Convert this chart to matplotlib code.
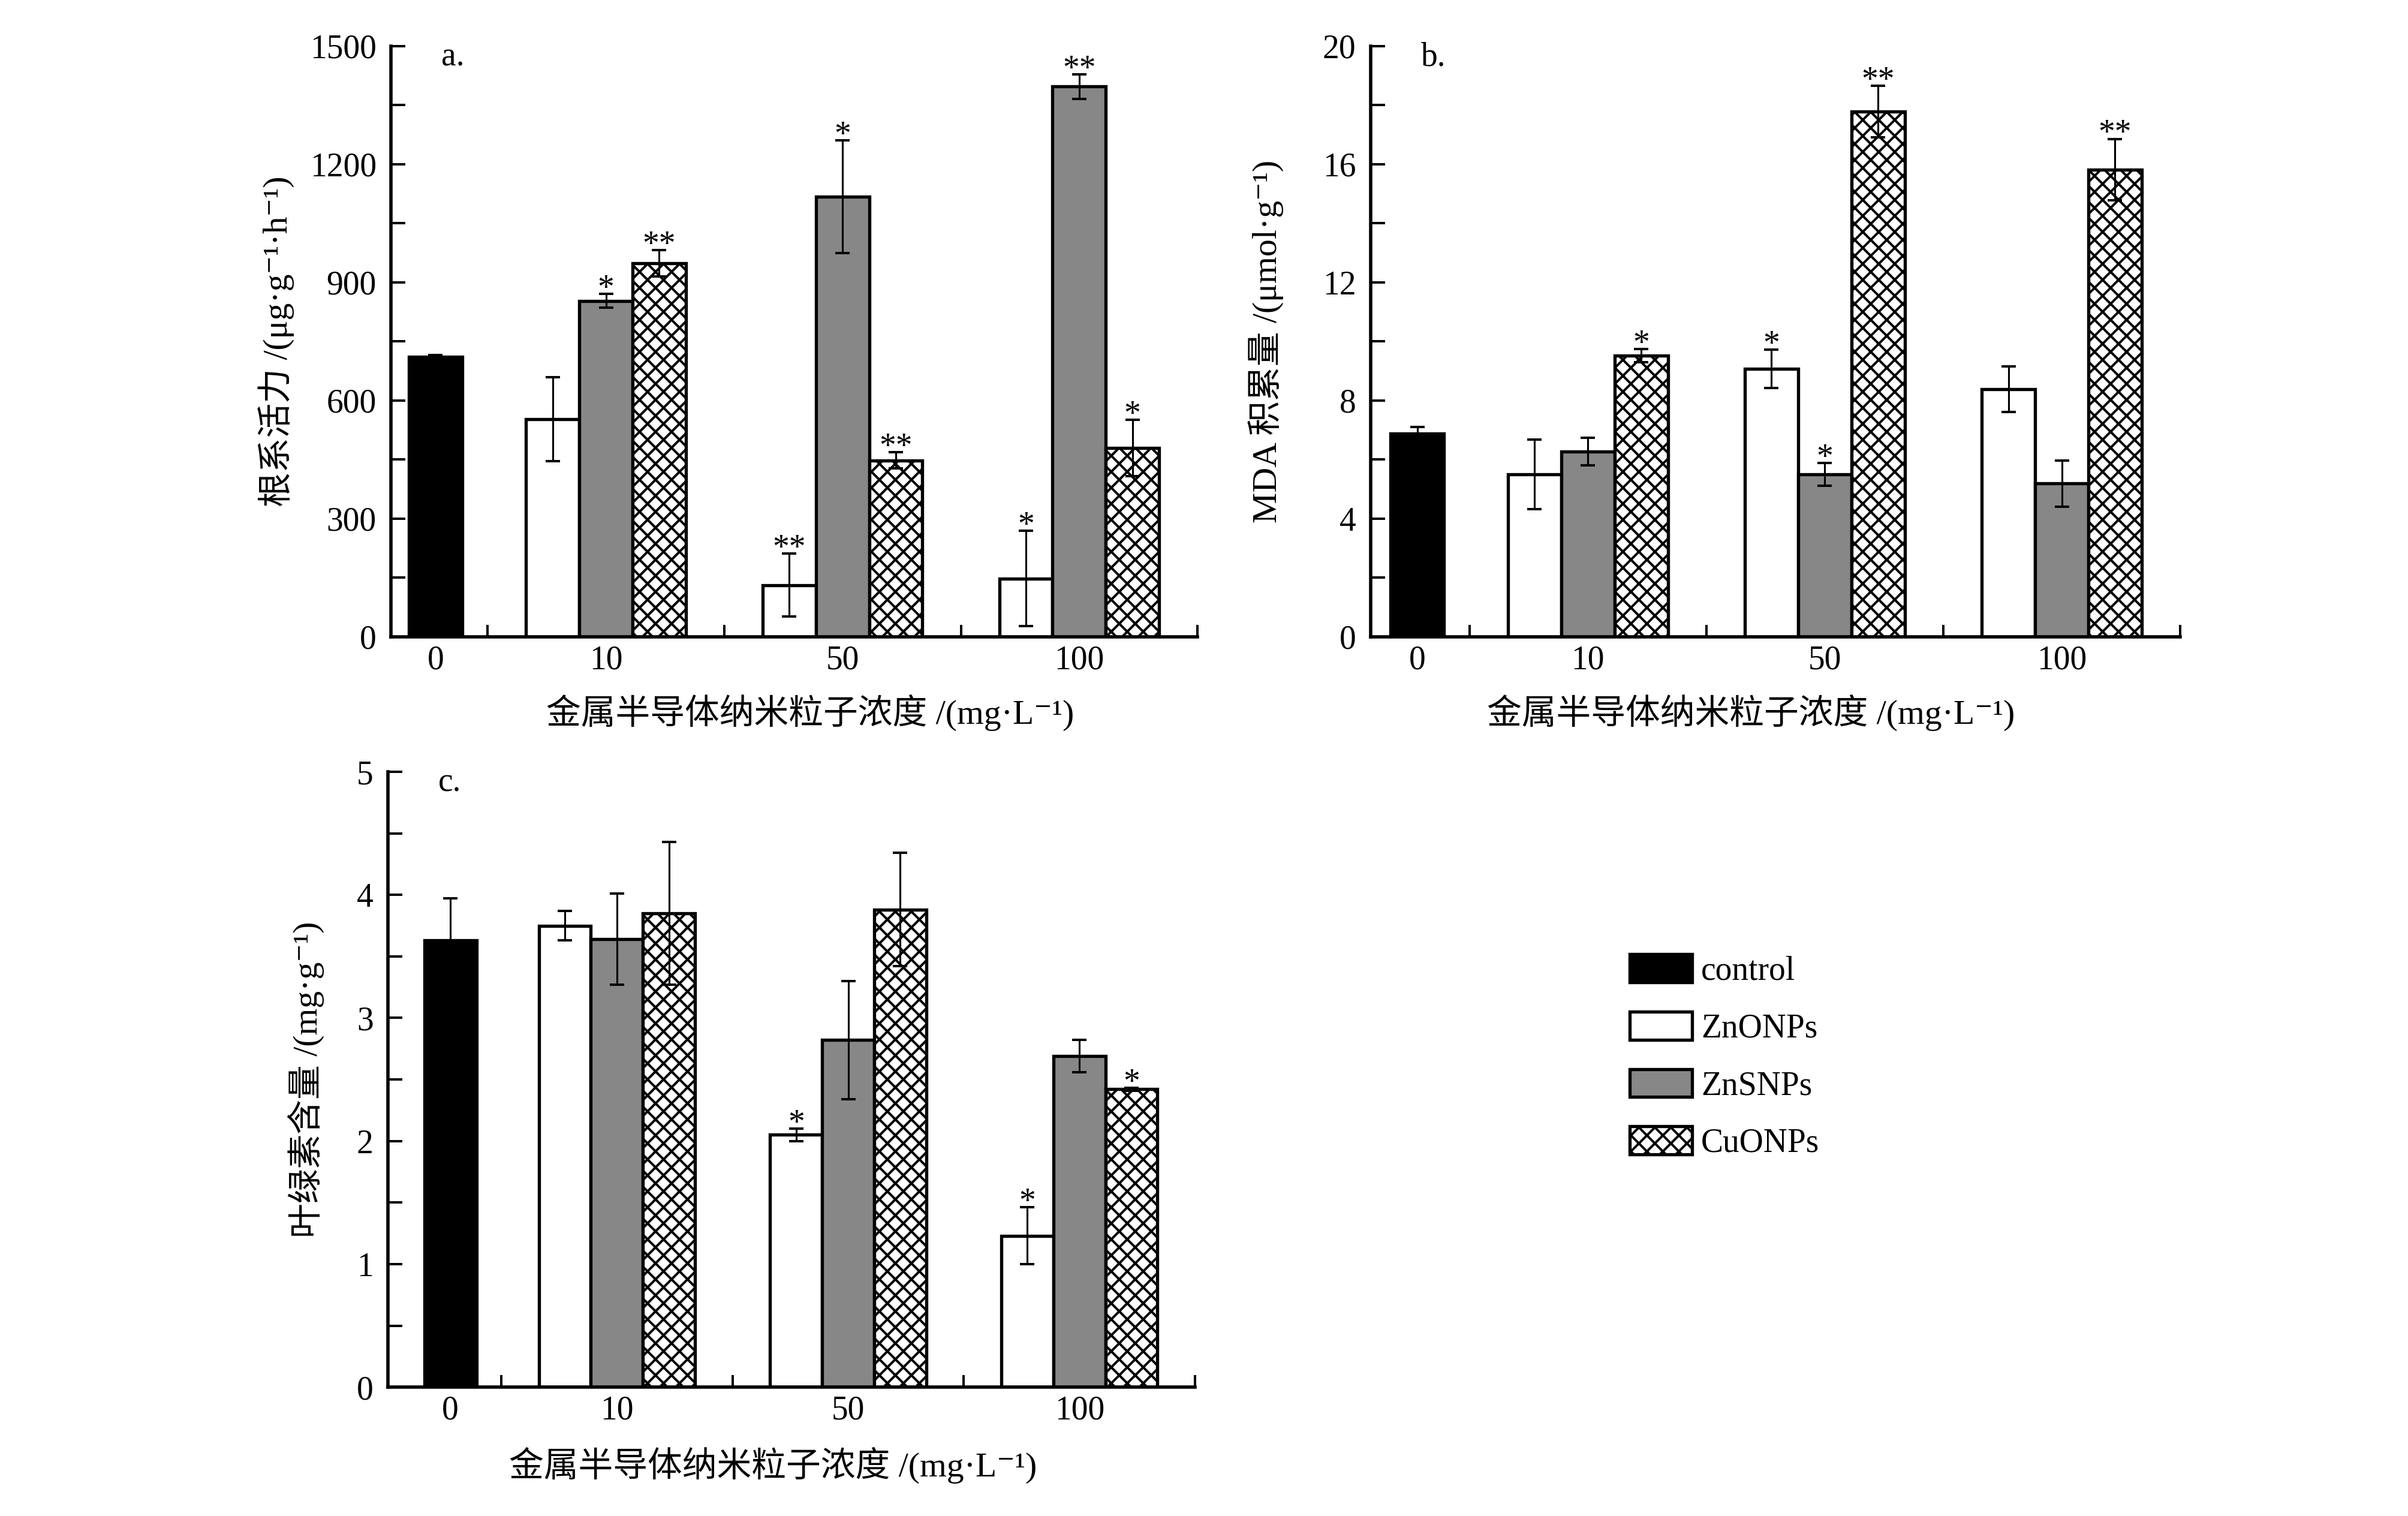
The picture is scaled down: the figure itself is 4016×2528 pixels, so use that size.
import matplotlib
matplotlib.use("Agg")
import matplotlib.pyplot as plt
from matplotlib.ticker import FixedLocator, MultipleLocator

plt.rcParams['font.family'] = ['Liberation Serif', 'Noto Sans CJK SC', 'DejaVu Serif']
plt.rcParams['hatch.linewidth'] = 1.8
plt.rcParams['axes.unicode_minus'] = False

# data
groups = ["10", "50", "100"]
series_names = ["control", "ZnONPs", "ZnSNPs", "CuONPs"]

# a. 根系活力
a_ctrl, a_ctrl_err = 710, 6
a_zno = [552, 131, 148]
a_zno_err = [107, 80, 121]
a_zns = [853, 1117, 1397]
a_zns_err = [17, 143, 31]
a_cuo = [948, 448, 479]
a_cuo_err = [33, 20, 72]
a_stars = [["", "**", "*"], ["*", "*", "**"], ["**", "**", "*"]]

# b. MDA
b_ctrl, b_ctrl_err = 6.87, 0.24
b_zno = [5.50, 9.07, 8.38]
b_zno_err = [1.18, 0.65, 0.77]
b_zns = [6.27, 5.50, 5.19]
b_zns_err = [0.46, 0.38, 0.78]
b_cuo = [9.51, 17.78, 15.81]
b_cuo_err = [0.22, 0.87, 1.04]
b_stars = [["", "*", ""], ["", "*", ""], ["*", "**", "**"]]

# c. 叶绿素
c_ctrl, c_ctrl_err = 3.63, 0.34
c_zno = [3.75, 2.05, 1.23]
c_zno_err = [0.12, 0.05, 0.23]
c_zns = [3.64, 2.82, 2.69]
c_zns_err = [0.37, 0.48, 0.13]
c_cuo = [3.85, 3.88, 2.42]
c_cuo_err = [0.58, 0.46, 0.01]
c_stars = [["", "*", "*"], ["", "", ""], ["", "", "*"]]

xlab = "金属半导体纳米粒子浓度 /(mg·L⁻¹)"

fig = plt.figure(figsize=(4016 / 160, 2528 / 160), dpi=160)

W = 0.225
CTRL_X = 0.28
GX = [1, 2, 3]
styles = [dict(color="white", edgecolor="black"),
          dict(color="#878787", edgecolor="black"),
          dict(color="white", edgecolor="black", hatch="xx")]
FS = 25


def panel(ax, ctrl, ctrl_err, vals, errs, stars, ymax, ystep, ylabel, tag,
          x0, ylab_x, xlab_x):
    ax.bar(CTRL_X, ctrl, W, color="black", edgecolor="black", lw=2.4,
           label=series_names[0], zorder=2)
    ax.errorbar(CTRL_X, ctrl, yerr=ctrl_err, fmt="none", ecolor="black",
                elinewidth=1.4, capsize=5.5, capthick=1.8, zorder=3)
    for i in range(3):
        xs = [g + (i - 1) * W for g in GX]
        ax.bar(xs, vals[i], W, lw=2.4, label=series_names[i + 1], zorder=2,
               **styles[i])
        ax.errorbar(xs, vals[i], yerr=errs[i], fmt="none", ecolor="black",
                    elinewidth=1.4, capsize=5.5, capthick=1.8, zorder=3)
        for x, v, e, s in zip(xs, vals[i], errs[i], stars[i]):
            if s:
                ax.annotate(s, (x, v + e), xytext=(0, -3),
                            textcoords="offset points", ha="center",
                            va="baseline", fontsize=FS)
    ax.set_xlim(x0, 3.5)
    ax.set_ylim(0, ymax)
    ax.set_xticks([CTRL_X] + GX)
    ax.set_xticklabels(["0"] + groups)
    ax.xaxis.set_minor_locator(FixedLocator([0.5, 1.5, 2.5, 3.5]))
    ax.yaxis.set_major_locator(MultipleLocator(ystep))
    ax.yaxis.set_minor_locator(MultipleLocator(ystep / 2))
    ax.tick_params(axis="x", which="major", length=0, pad=6, labelsize=FS)
    ax.tick_params(axis="x", which="minor", direction="in", length=9, width=1.8)
    ax.tick_params(axis="y", which="both", direction="in", length=11,
                   width=1.8, pad=11, labelsize=FS)
    for sp in ["top", "right"]:
        ax.spines[sp].set_visible(False)
    for sp in ["left", "bottom"]:
        ax.spines[sp].set_linewidth(2.5)
    ax.set_ylabel(ylabel, fontsize=26)
    ax.yaxis.set_label_coords(ylab_x, 0.5)
    ax.set_xlabel(xlab, fontsize=26)
    ax.xaxis.set_label_coords(xlab_x, -0.097)
    ax.text(0.062, 1.007, tag, transform=ax.transAxes, ha="left", va="top",
            fontsize=FS)


ax_a = fig.add_axes([0.1624, 0.580, 0.3349, 0.3897])
panel(ax_a, a_ctrl, a_ctrl_err, [a_zno, a_zns, a_cuo],
      [a_zno_err, a_zns_err, a_cuo_err], a_stars, 1500, 300,
      "根系活力 /(μg·g⁻¹·h⁻¹)", "a.", 0.092, -0.120, 0.52)

ax_b = fig.add_axes([0.5692, 0.580, 0.3362, 0.3897])
panel(ax_b, b_ctrl, b_ctrl_err, [b_zno, b_zns, b_cuo],
      [b_zno_err, b_zns_err, b_cuo_err], b_stars, 20, 4,
      "MDA 积累量 /(μmol·g⁻¹)", "b.", 0.083, -0.107, 0.47)

ax_c = fig.add_axes([0.1611, 0.085, 0.3352, 0.4059])
panel(ax_c, c_ctrl, c_ctrl_err, [c_zno, c_zns, c_cuo],
      [c_zno_err, c_zns_err, c_cuo_err], c_stars, 5, 1,
      "叶绿素含量 /(mg·g⁻¹)", "c.", 0.01, -0.079, 0.477)

handles, labels = ax_a.get_legend_handles_labels()
fig.legend(handles, labels, loc="center left", bbox_to_anchor=(0.6768, 0.303),
           frameon=False, fontsize=FS, handlelength=1.87, handleheight=0.92,
           handletextpad=0.27, labelspacing=0.74, borderpad=0,
           borderaxespad=0)

fig.savefig("out.png", dpi=160)
